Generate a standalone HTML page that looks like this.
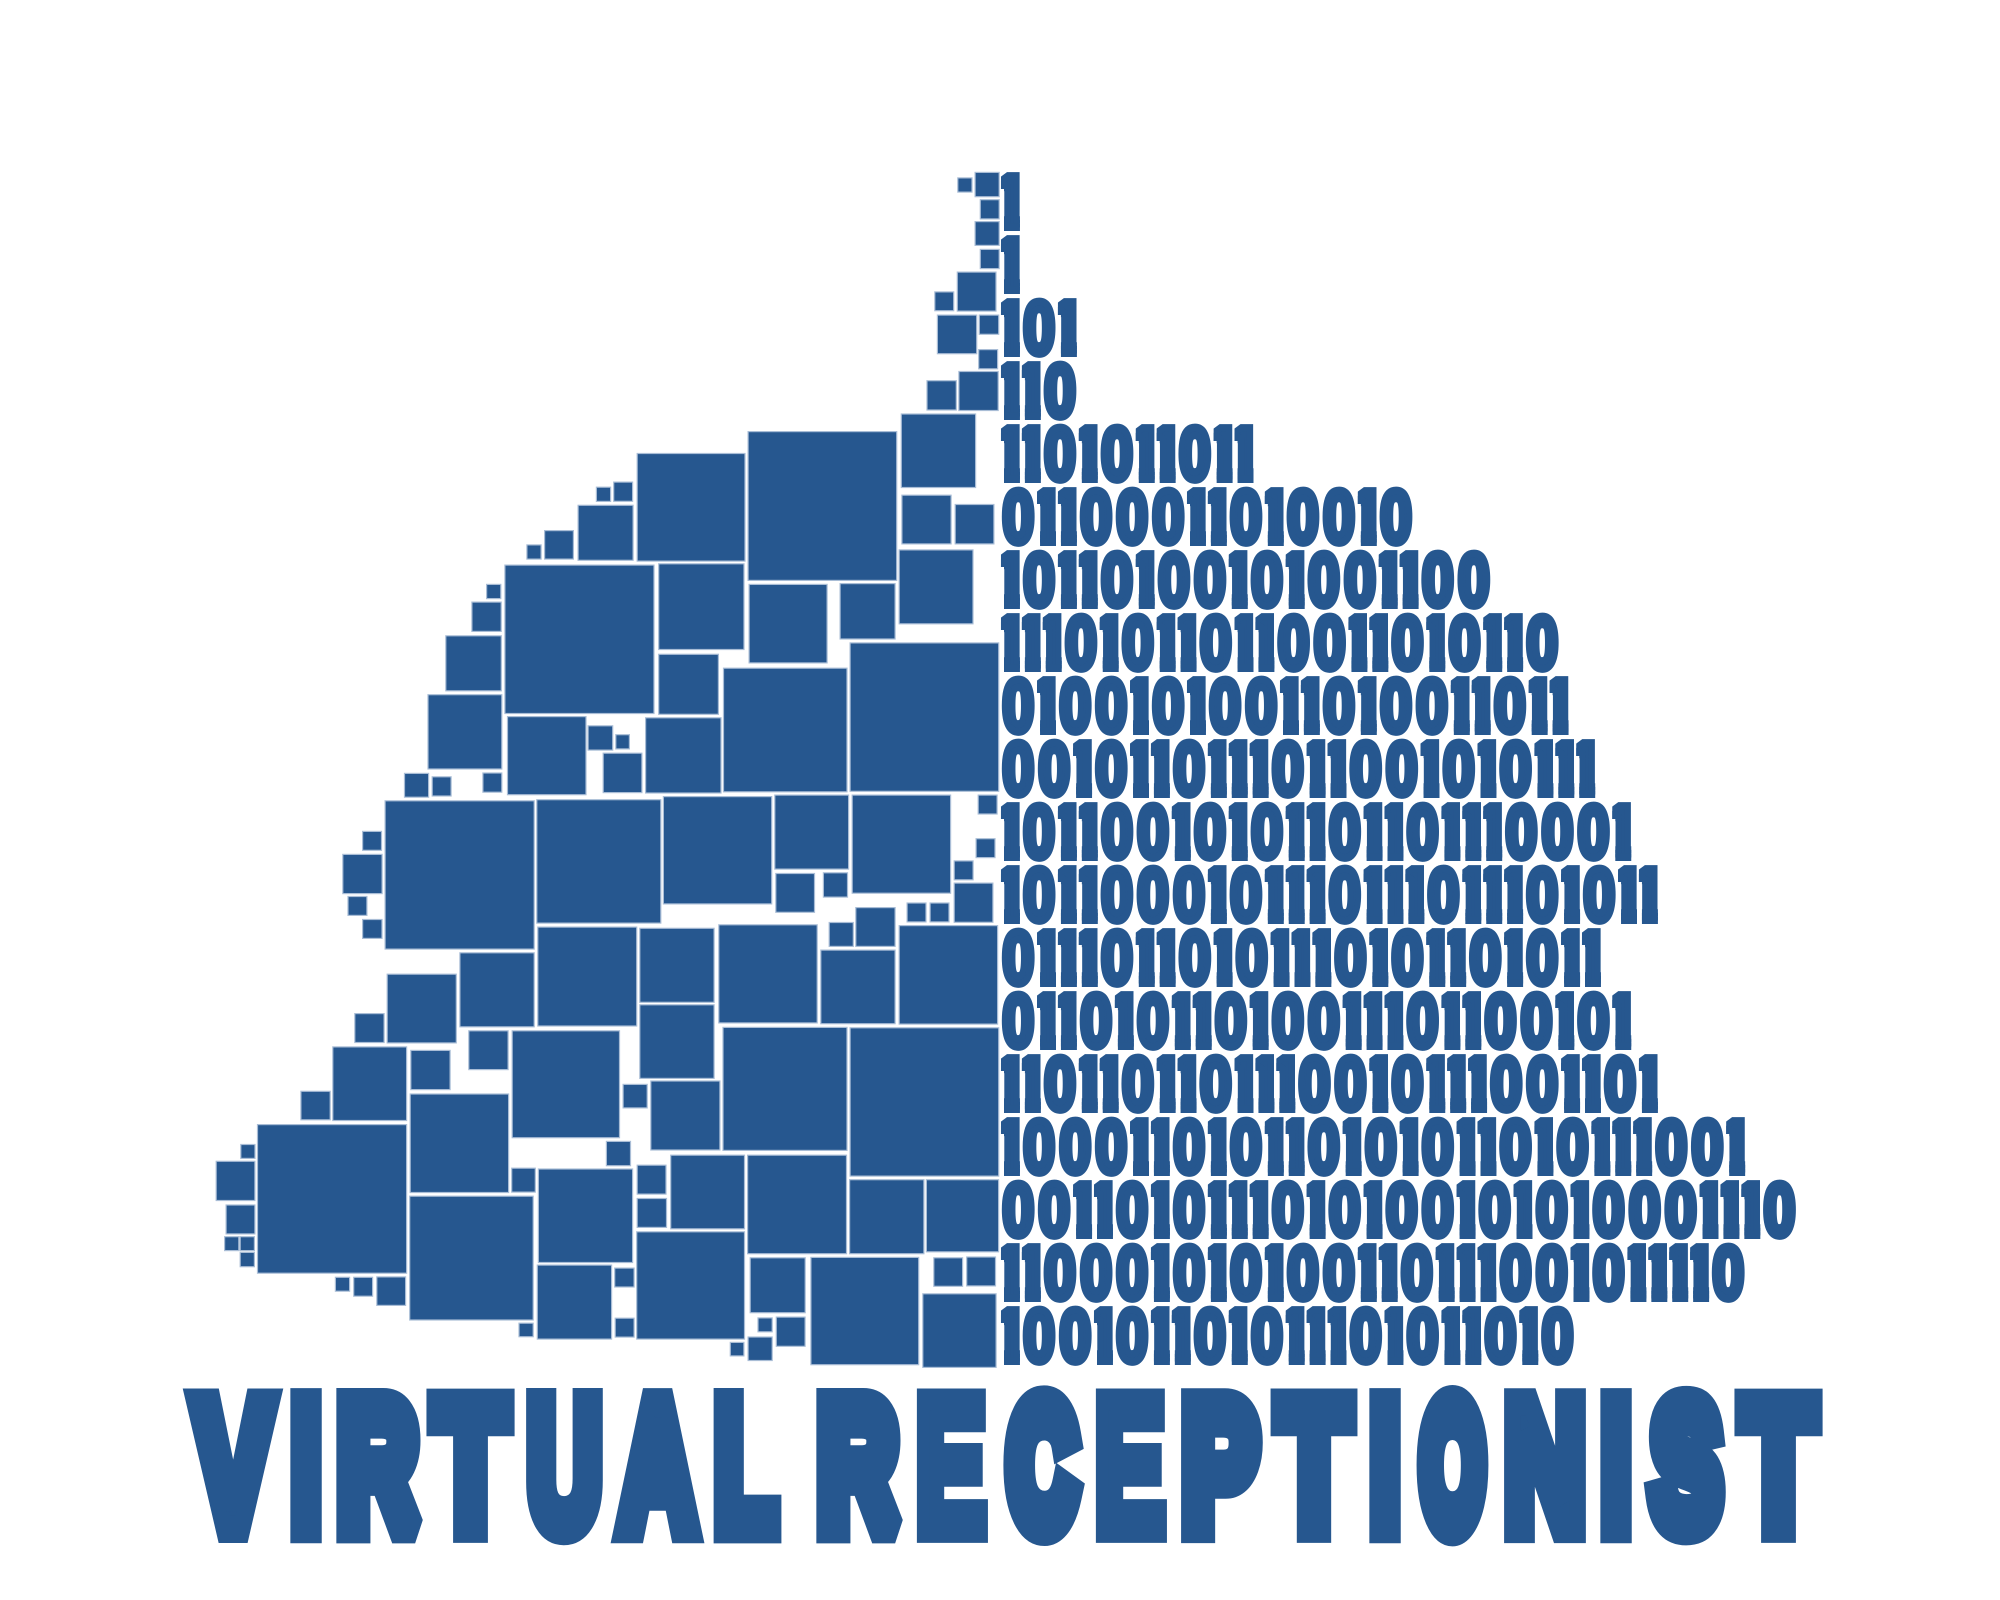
<!DOCTYPE html>
<html lang="en">
<head>
<meta charset="utf-8">
<title>Virtual Receptionist</title>
<style>
html,body{margin:0;padding:0;background:#fff;width:2000px;height:1600px;overflow:hidden}
svg{display:block}
.tile{fill:#26578f;stroke:#a9bdd6;stroke-width:1.2}
.digit{font-family:"Liberation Sans",sans-serif;font-weight:700;font-size:100px;fill:#26578f;stroke:#26578f;stroke-width:6.8px;vector-effect:non-scaling-stroke;stroke-linejoin:miter;stroke-miterlimit:2}
.letter{font-family:"Liberation Sans",sans-serif;font-weight:700;font-size:100px;fill:#26578f;stroke:#26578f;stroke-width:22.8px;vector-effect:non-scaling-stroke;stroke-linejoin:miter;stroke-miterlimit:2}
</style>
</head>
<body>
<svg id="poster" xmlns="http://www.w3.org/2000/svg" width="2000" height="1600" viewBox="0 0 2000 1600">
  <defs>
    <clipPath id="one-clip" clipPathUnits="userSpaceOnUse">
      <polygon points="13.5,-73.7 42.4,-73.7 42.4,4.5 18.1,4.5 18.1,-51.2 13.5,-51.2"></polygon>
    </clipPath>
  </defs>
  <g id="tiles"></g>
  <g id="binary"></g>
  <g id="headline" aria-label="VIRTUAL RECEPTIONIST"></g>
</svg>
<script>
var binaryRows = [
  "1","1","101","110","1101011011","01100011010010","10110100101001100",
  "111010110110011010110","01001010011010011011","0010110111011001010111",
  "10110010101101101110001","1011000101110111011101011","01110110101110101101011",
  "01101011010011101100101","1101101101110010111001101","100011010110101011010111001",
  "0011010111010100101010001110","110001010100110111001011110","100101101011101011010"
];
var headlineText = "VIRTUAL RECEPTIONIST";
var headlineSpans = [[184,283],[287,325],[333,428],[425,516],[523,606],[608,707],[710,785],
  [813,908],[914,990],[999,1086],[1093,1169],[1178,1265],[1269,1359],[1366,1404],[1411,1494],
  [1501,1589],[1597,1635],[1642,1729],[1733,1824]];
var glyphInk = {V:[1,66.5],I:[6.7,21],R:[6.7,70.5],T:[2.1,59],U:[6.5,65.7],A:[0,72],L:[6.7,58],
  E:[6.7,62],C:[4.6,68.5],P:[6.7,62.5],O:[4.2,73.5],N:[6.7,65.5],S:[3.2,62.2]};
var glyphWeight = {V:22.8,I:22.8,R:25,T:22.8,U:22.8,A:22.8,L:22.8,E:18,C:28,P:24,O:27,N:22.8,S:26};
var upperTiles = [
[1448,65,1477,101],[1481,52,1529,112],[1491,117,1529,165],[1481,169,1529,228],[1491,235,1529,283],
[1447,289,1523,384],[1404,336,1442,383],[1409,391,1486,485],[1489,391,1528,439],[1488,473,1526,521],
[1450,525,1527,620],[1389,547,1447,619],[1340,626,1484,803],[1341,819,1437,937],[1443,841,1519,937],
[1047,668,1333,1024],[835,720,1043,978],[790,788,828,836],[757,800,786,836],[722,843,829,976],
[658,903,715,973],[624,937,653,973],[582,985,869,1340],[876,982,1041,1188],[1049,1031,1200,1220],
[1223,1029,1330,1163],[1336,949,1479,1127],[547,1031,576,1067],[519,1073,577,1145],[469,1153,577,1286],
[876,1197,992,1342],[1000,1230,1238,1526],[1242,1170,1528,1525],[435,1293,578,1472],[587,1345,739,1533],
[741,1367,790,1427],[794,1388,822,1424],[851,1348,997,1529],[770,1432,846,1528],[390,1480,438,1539],
[443,1488,481,1536],[540,1479,578,1527]
];
var lowerTiles = [
[353,27,640,417],[643,24,882,349],[885,16,1094,299],[1098,12,1241,208],[1246,12,1436,271],
[1487,12,1525,64],[310,107,348,159],[272,167,349,272],[282,277,320,329],[310,337,349,389],
[1483,126,1521,178],[1441,184,1479,236],[1441,242,1517,347],[1100,217,1176,321],[1191,215,1239,281],
[1351,294,1389,346],[1395,294,1433,346],[1253,306,1330,410],[1202,345,1250,410],[645,357,836,618],
[840,360,984,556],[991,351,1181,610],[1186,417,1330,612],[1336,353,1526,613],[496,424,640,620],
[357,480,491,662],[295,583,353,661],[513,628,590,732],[596,628,803,910],[840,560,984,755],
[999,619,1238,943],[1242,620,1528,1010],[253,670,396,865],[402,679,479,784],[192,786,250,863],
[808,768,856,832],[861,759,995,942],[401,793,591,1053],[109,873,396,1264],[776,917,824,983],
[77,925,106,964],[30,969,106,1074],[595,987,642,1052],[646,989,828,1236],[835,979,892,1057],
[899,953,1042,1148],[1046,953,1237,1213],[1241,1017,1385,1213],[1388,1017,1528,1208],[49,1083,106,1161],
[46,1166,75,1205],[76,1166,105,1205],[76,1207,105,1247],[835,1066,893,1144],[400,1060,638,1386],
[834,1153,1042,1436],[644,1240,788,1436],[792,1248,831,1300],[258,1272,287,1311],[293,1272,331,1324],
[337,1271,394,1348],[1051,1221,1158,1367],[1167,1220,1375,1503],[1402,1221,1459,1298],[1465,1219,1522,1297],
[1381,1315,1523,1510],[793,1379,831,1431],[609,1392,638,1430],[1066,1378,1095,1417],[1101,1376,1158,1455],
[1047,1428,1095,1492],[1013,1442,1041,1480]
];

var NS = "http://www.w3.org/2000/svg";
function scaleX(v){ return 200 + v / 1.912; }
function scaleUpperY(v){ return 150 + v / 2.376; }
function scaleLowerY(v){ return 790 + v / 2.613; }
function rowBottom(i){ return 231 + i * 63; }

function drawTiles(list, scaleY){
  var host = document.getElementById("tiles");
  list.forEach(function(t){
    var el = document.createElementNS(NS, "rect");
    el.setAttribute("class", "tile");
    el.setAttribute("x", (scaleX(t[0]) + 0.5).toFixed(1));
    el.setAttribute("y", (scaleY(t[1]) + 0.5).toFixed(1));
    el.setAttribute("width", (scaleX(t[2]) - scaleX(t[0]) - 1).toFixed(1));
    el.setAttribute("height", (scaleY(t[3]) - scaleY(t[1]) - 1).toFixed(1));
    
    
    host.appendChild(el);
  });
}
drawTiles(upperTiles, scaleUpperY);
drawTiles(lowerTiles, scaleLowerY);

var binaryHost = document.getElementById("binary");
binaryRows.forEach(function(row, r){
  var x = 1001;
  var base = rowBottom(r) - 3.4;
  var group = document.createElementNS(NS, "g");
  
  
  group.setAttribute("aria-label", row);
  row.split("").forEach(function(ch){
    var el = document.createElementNS(NS, "text");
    el.setAttribute("class", "digit");
    if (ch === "1") {
      el.setAttribute("transform", "translate(" + (x - 8.9).toFixed(2) + "," + base + ") scale(0.657,0.754)");
      el.setAttribute("clip-path", "url(#one-clip)");
    } else {
      el.setAttribute("transform", "translate(" + (x + 1.5).toFixed(2) + "," + base + ") scale(0.567,0.74)");
    }
    
    
    el.textContent = ch;
    group.appendChild(el);
    x += ch === "1" ? 20.9 : 36.05;
  });
  binaryHost.appendChild(group);
});

var headlineHost = document.getElementById("headline");
var letters = headlineText.replace(" ", "").split("");
letters.forEach(function(ch, i){
  var span = headlineSpans[i];
  var ink = glyphInk[ch];
  var w = glyphWeight[ch];
  var sx = (span[1] - span[0] - w) / (ink[1] - ink[0]);
  var sy = (150 - w) / 68.8;
  var tx = span[0] + w / 2 - ink[0] * sx;
  var ty = 1540.7 - w / 2;
  var el = document.createElementNS(NS, "text");
  el.setAttribute("class", "letter");
  el.setAttribute("transform", "translate(" + tx.toFixed(2) + "," + ty.toFixed(2) + ") scale(" + sx.toFixed(3) + "," + sy.toFixed(3) + ")");
  el.style.strokeWidth = w + "px";
  
  
  el.textContent = ch;
  headlineHost.appendChild(el);
});
</script>
</body>
</html>
